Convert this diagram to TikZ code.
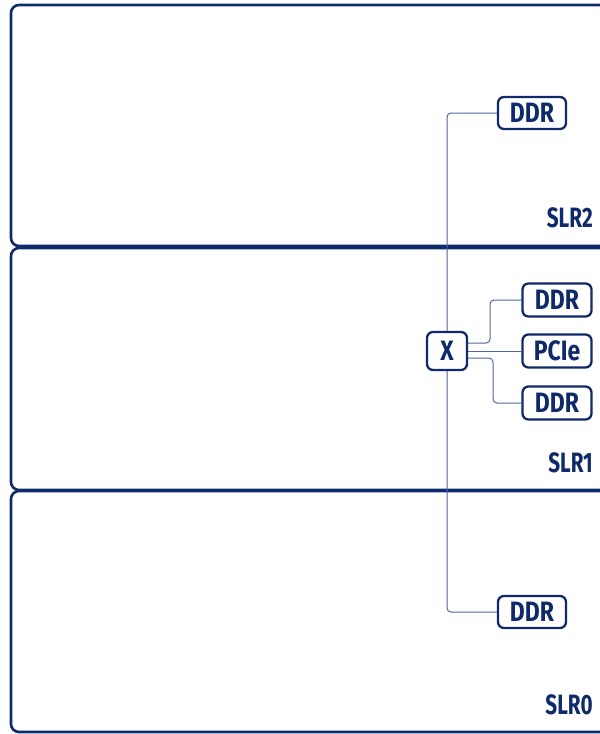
\documentclass[tikz,border=0pt]{standalone}
\usepackage{fontspec}
\setmainfont{Fira Sans}[FakeStretch=0.82]
\newfontfamily\lblfont{Fira Sans}[FakeStretch=0.74]
\begin{document}
\begin{tikzpicture}[x=1pt,y=-1pt,
  slr/.style={draw=navyc,line width=2.6pt,rounded corners=8pt},
  blk/.style={draw=navyc,fill=white,line width=2.3pt,rounded corners=6pt,font=\bfseries\fontsize{28}{28}\selectfont,text=navyc,inner sep=0pt,minimum height=32pt},
  lbl/.style={font=\lblfont\bfseries\fontsize{28}{28}\selectfont,text=navyc,anchor=base east,inner sep=0pt},
  wire/.style={draw=wirec,line width=1pt,rounded corners=4pt}]
\definecolor{navyc}{HTML}{0E2A6B}
\definecolor{wirec}{HTML}{5065A0}
\useasboundingbox (0,0) rectangle (600,734);
\clip (0,0) rectangle (600,734);
\draw[slr] (11,5) rectangle (640,246);
\draw[slr] (11,248) rectangle (640,490);
\draw[slr] (11,491) rectangle (640,732);
\node[lbl] (l2) at (593,227) {SLR2};
\node[lbl] (l1) at (593,472) {SLR1};
\node[lbl] (l0) at (593,714) {SLR0};
\node[blk,minimum width=68pt] (d2) at (532,113) {DDR};
\node[blk,minimum width=68pt] (d0) at (532,612) {DDR};
\node[blk,minimum width=69pt,minimum height=33pt] (da) at (557,300) {DDR};
\node[blk,minimum width=69pt,minimum height=33pt] (pc) at (557,351) {PCIe};
\node[blk,minimum width=69pt,minimum height=33pt] (db) at (557,403) {DDR};
\draw[wire] (d2.west) -| (447,360) |- (d0.west);
\node[blk,minimum width=40pt,minimum height=38pt] (x) at (447,351) {X};
\draw[wire] ([yshift=8pt]x.east) -- (490,343) |- (da.west);
\draw[wire] (x.east) -- (pc.west);
\draw[wire] ([yshift=-7pt]x.east) -- (493,358) |- (db.west);
\end{tikzpicture}
\end{document}
